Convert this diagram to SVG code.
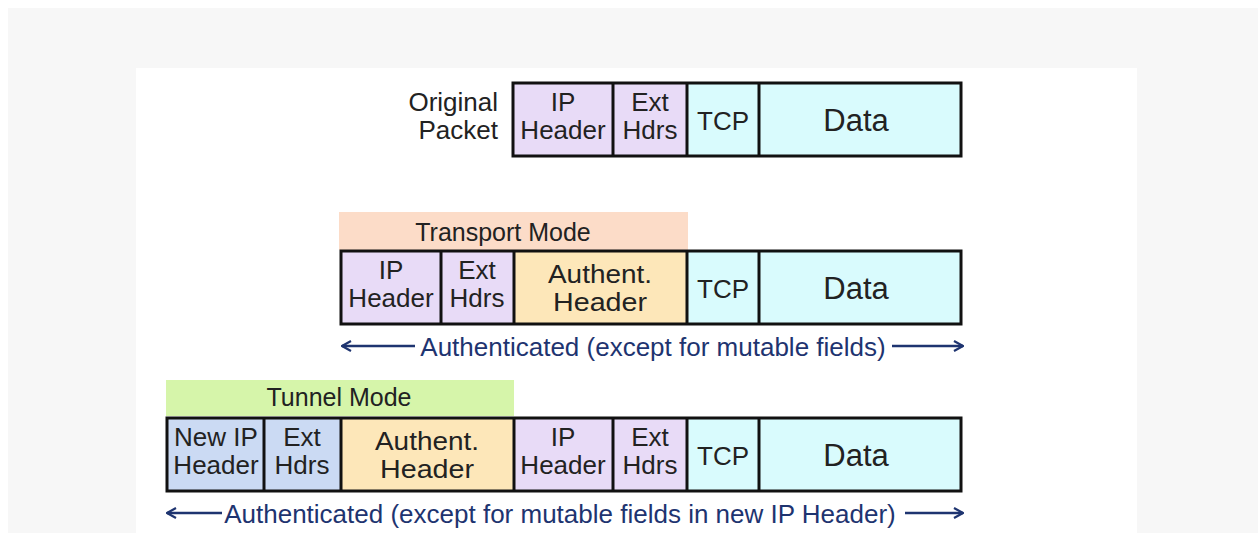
<svg xmlns="http://www.w3.org/2000/svg" width="1258" height="533" viewBox="0 0 1258 533">
<defs>
<style>
text{font-family:"Liberation Sans",Arial,sans-serif;fill:#222;text-anchor:middle}
.c{font-size:26px}
.a{font-size:26px}
.d{font-size:31px}
.b{font-size:25px}
.n{font-size:26px;fill:#1e3470}
.cell{stroke:#111;stroke-width:3}
.ip{fill:#e8dbf7}
.cy{fill:#d9fbfd}
.au{fill:#fde7b9}
.nw{fill:#cbdaf3}
.arr{stroke:#1e3470;stroke-width:2.5;fill:none}
</style>
<marker id="ah" viewBox="0 0 12 12" refX="11" refY="6" markerWidth="12" markerHeight="12" markerUnits="userSpaceOnUse" orient="auto-start-reverse">
<path d="M2,1 L11,6 L2,11" fill="none" stroke="#1e3470" stroke-width="2.2"/>
</marker>
</defs>
<rect x="0" y="0" width="1258" height="533" fill="#ffffff"/>
<rect x="8" y="8" width="1250" height="525" fill="#f7f7f7"/>
<rect x="136" y="68" width="1001" height="465" fill="#ffffff"/>

<g id="original-packet">
<text class="c" x="498" y="111" style="text-anchor:end">Original</text>
<text class="c" x="498" y="139" style="text-anchor:end">Packet</text>
<rect class="ip" x="513" y="83" width="100" height="73"/>
<rect class="ip" x="613" y="83" width="74" height="73"/>
<rect class="cy" x="687" y="83" width="72" height="73"/>
<rect class="cy" x="759" y="83" width="202" height="73"/>
<rect x="513" y="83" width="448" height="73" fill="none" class="cell"/>
<line class="cell" x1="613" y1="83" x2="613" y2="156"/>
<line class="cell" x1="687" y1="83" x2="687" y2="156"/>
<line class="cell" x1="759" y1="83" x2="759" y2="156"/>
<text class="c" x="563" y="111">IP</text>
<text class="c" x="563" y="139">Header</text>
<text class="c" x="650" y="111">Ext</text>
<text class="c" x="650" y="139">Hdrs</text>
<text class="c" x="723" y="130">TCP</text>
<text class="d" x="856" y="131">Data</text>
</g>

<g id="transport-mode">
<rect x="339" y="212" width="349" height="38" fill="#fcdcc8"/>
<text class="b" x="503" y="241">Transport Mode</text>
<rect class="ip" x="341" y="251" width="100" height="73"/>
<rect class="ip" x="441" y="251" width="73" height="73"/>
<rect class="au" x="514" y="251" width="173" height="73"/>
<rect class="cy" x="687" y="251" width="72" height="73"/>
<rect class="cy" x="759" y="251" width="202" height="73"/>
<rect x="341" y="251" width="620" height="73" fill="none" class="cell"/>
<line class="cell" x1="441" y1="251" x2="441" y2="324"/>
<line class="cell" x1="514" y1="251" x2="514" y2="324"/>
<line class="cell" x1="687" y1="251" x2="687" y2="324"/>
<line class="cell" x1="759" y1="251" x2="759" y2="324"/>
<text class="c" x="391" y="279">IP</text>
<text class="c" x="391" y="307">Header</text>
<text class="c" x="477" y="279">Ext</text>
<text class="c" x="477" y="307">Hdrs</text>
<text class="a" x="600" y="283" textLength="104" lengthAdjust="spacingAndGlyphs">Authent.</text>
<text class="a" x="600" y="311" textLength="94" lengthAdjust="spacingAndGlyphs">Header</text>
<text class="c" x="723" y="298">TCP</text>
<text class="d" x="856" y="299">Data</text>
<text class="n" x="653" y="356">Authenticated (except for mutable fields)</text>
</g>

<g id="tunnel-mode">
<rect x="166" y="380" width="348" height="36" fill="#d6f5aa"/>
<text class="b" x="339" y="406">Tunnel Mode</text>
<rect class="nw" x="167" y="418" width="97" height="73"/>
<rect class="nw" x="264" y="418" width="77" height="73"/>
<rect class="au" x="341" y="418" width="173" height="73"/>
<rect class="ip" x="514" y="418" width="99" height="73"/>
<rect class="ip" x="613" y="418" width="74" height="73"/>
<rect class="cy" x="687" y="418" width="72" height="73"/>
<rect class="cy" x="759" y="418" width="202" height="73"/>
<rect x="167" y="418" width="794" height="73" fill="none" class="cell"/>
<line class="cell" x1="264" y1="418" x2="264" y2="491"/>
<line class="cell" x1="341" y1="418" x2="341" y2="491"/>
<line class="cell" x1="514" y1="418" x2="514" y2="491"/>
<line class="cell" x1="613" y1="418" x2="613" y2="491"/>
<line class="cell" x1="687" y1="418" x2="687" y2="491"/>
<line class="cell" x1="759" y1="418" x2="759" y2="491"/>
<text class="c" x="216" y="446">New IP</text>
<text class="c" x="216" y="474">Header</text>
<text class="c" x="302" y="446">Ext</text>
<text class="c" x="302" y="474">Hdrs</text>
<text class="a" x="427" y="450" textLength="104" lengthAdjust="spacingAndGlyphs">Authent.</text>
<text class="a" x="427" y="478" textLength="94" lengthAdjust="spacingAndGlyphs">Header</text>
<text class="c" x="563" y="446">IP</text>
<text class="c" x="563" y="474">Header</text>
<text class="c" x="650" y="446">Ext</text>
<text class="c" x="650" y="474">Hdrs</text>
<text class="c" x="723" y="465">TCP</text>
<text class="d" x="856" y="466">Data</text>
<text class="n" x="560" y="523">Authenticated (except for mutable fields in new IP Header)</text>
</g>

<g id="connectors">
<line class="arr" x1="415" y1="346" x2="342" y2="346" marker-end="url(#ah)"/>
<line class="arr" x1="892" y1="346" x2="963" y2="346" marker-end="url(#ah)"/>
<line class="arr" x1="222" y1="513" x2="167" y2="513" marker-end="url(#ah)"/>
<line class="arr" x1="905" y1="513" x2="963" y2="513" marker-end="url(#ah)"/>
</g>
</svg>
